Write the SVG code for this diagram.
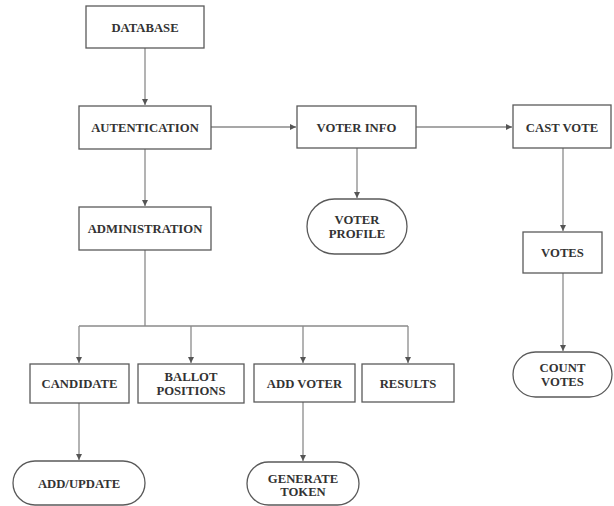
<svg xmlns="http://www.w3.org/2000/svg" width="614" height="506" viewBox="0 0 614 506">
<defs>
<marker id="ah" markerWidth="8" markerHeight="8" refX="7" refY="4" orient="auto" markerUnits="userSpaceOnUse">
<path d="M1,1 L7,4 L1,7 Z" fill="#555"/>
</marker>
<style>
.box{fill:#fff;stroke:#5a5a5a;stroke-width:1.3}
.t{font-family:"Liberation Serif","Times New Roman",serif;font-weight:bold;font-size:12.7px;fill:#333;text-anchor:middle}
.c{fill:none;stroke:#8a8a8a;stroke-width:1.3}
.a{marker-end:url(#ah)}
</style>
</defs>
<rect width="614" height="506" fill="#fff"/>
<g id="connectors">
<path class="c a" d="M145,48 V105"/>
<path class="c a" d="M145,149 V206"/>
<path class="c a" d="M211,127 H296"/>
<path class="c a" d="M416,127 H512"/>
<path class="c a" d="M357,148 V198"/>
<path class="c a" d="M563,148 V231"/>
<path class="c a" d="M563,273 V351"/>
<path class="c" d="M145,250 V326 M79,326 H408"/>
<path class="c a" d="M79,326 V363"/>
<path class="c a" d="M191,326 V363"/>
<path class="c a" d="M303,326 V363"/>
<path class="c a" d="M408,326 V363"/>
<path class="c a" d="M79,403 V460"/>
<path class="c a" d="M303,402 V461"/>
</g>
<g id="database"><rect class="box" x="86" y="6" width="118" height="42"/><text class="t" x="145" y="31.5">DATABASE</text></g>
<g id="autentication"><rect class="box" x="79" y="106" width="132" height="43"/><text class="t" x="145" y="132">AUTENTICATION</text></g>
<g id="administration"><rect class="box" x="79" y="207" width="132" height="43"/><text class="t" x="145" y="233">ADMINISTRATION</text></g>
<g id="voter-info"><rect class="box" x="297" y="106" width="119" height="42"/><text class="t" x="356.5" y="131.5">VOTER INFO</text></g>
<g id="cast-vote"><rect class="box" x="513" y="105" width="98" height="43"/><text class="t" x="562" y="131.5">CAST VOTE</text></g>
<g id="voter-profile"><rect class="box" x="307" y="199" width="100" height="55" rx="27.5"/><text class="t" x="357" y="224">VOTER</text><text class="t" x="357" y="237.5">PROFILE</text></g>
<g id="votes"><rect class="box" x="523" y="232" width="79" height="41"/><text class="t" x="562.5" y="257">VOTES</text></g>
<g id="count-votes"><rect class="box" x="513" y="352" width="99" height="45" rx="22.5"/><text class="t" x="562.5" y="372">COUNT</text><text class="t" x="562.5" y="385.5">VOTES</text></g>
<g id="candidate"><rect class="box" x="30" y="364" width="99" height="39"/><text class="t" x="79.5" y="388">CANDIDATE</text></g>
<g id="ballot-positions"><rect class="box" x="138" y="364" width="106" height="39"/><text class="t" x="191" y="381">BALLOT</text><text class="t" x="191" y="394.5">POSITIONS</text></g>
<g id="add-voter"><rect class="box" x="254" y="364" width="101" height="38"/><text class="t" x="304.5" y="388">ADD VOTER</text></g>
<g id="results"><rect class="box" x="362" y="364" width="92" height="38"/><text class="t" x="408" y="388">RESULTS</text></g>
<g id="add-update"><rect class="box" x="13" y="461" width="132" height="44" rx="22"/><text class="t" x="79" y="488">ADD/UPDATE</text></g>
<g id="generate-token"><rect class="box" x="247" y="462" width="112" height="43" rx="21.5"/><text class="t" x="303" y="482.5">GENERATE</text><text class="t" x="303" y="496">TOKEN</text></g>
</svg>
